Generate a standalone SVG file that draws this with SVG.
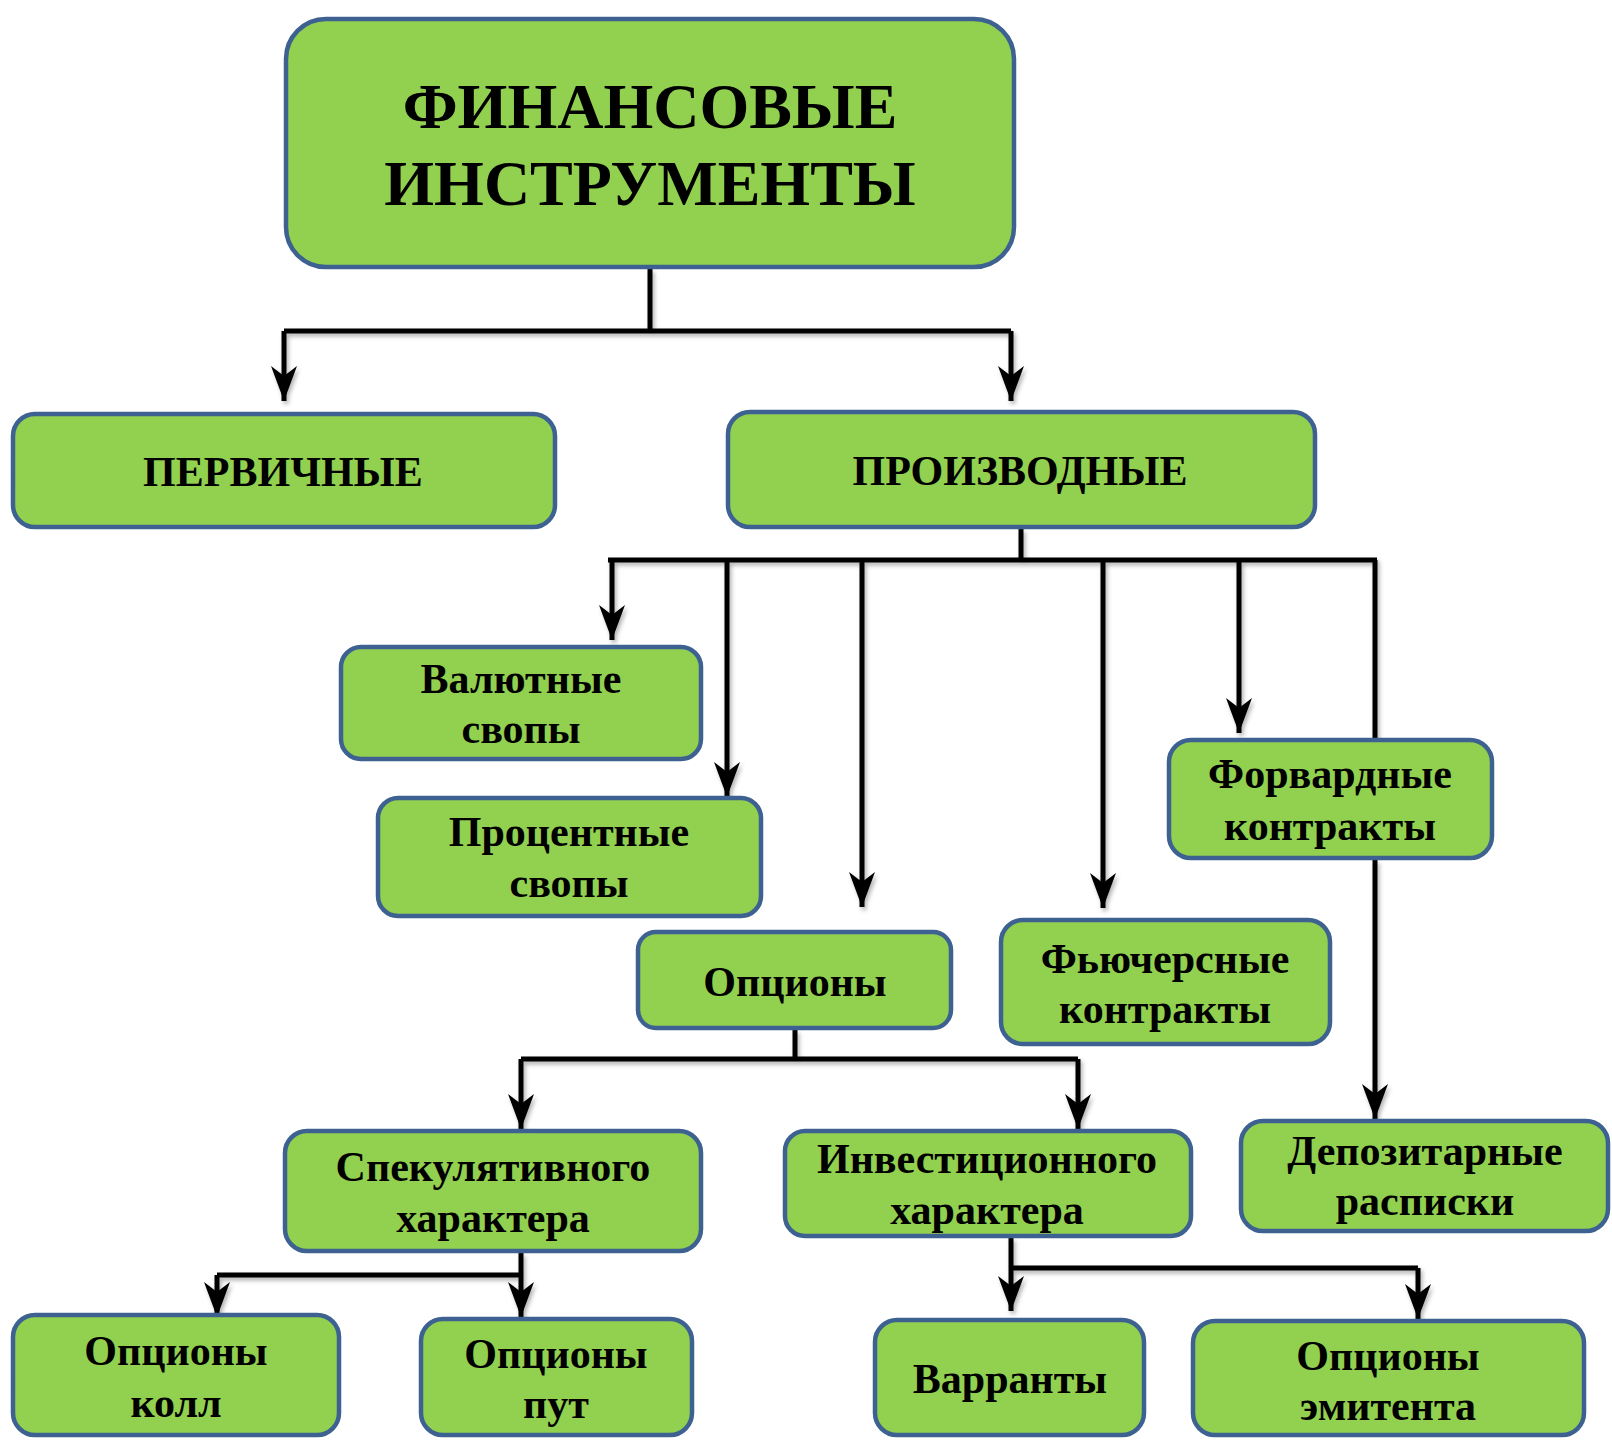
<svg xmlns="http://www.w3.org/2000/svg" width="1612" height="1440" viewBox="0 0 1612 1440">
<style>
.box{fill:#92D050;stroke:#3D6191;stroke-width:4.5}
.t{font-family:"Liberation Serif","Times New Roman",serif;font-weight:bold;font-size:42px;fill:#000;text-anchor:middle}
.big{font-size:64px}
.c{fill:none;stroke:#000;stroke-width:5}
.a{marker-end:url(#arr)}
</style>
<defs>
<marker id="arr" markerUnits="userSpaceOnUse" markerWidth="40" markerHeight="30" viewBox="0 0 40 30" refX="35" refY="13" orient="auto">
<path d="M35,13 L0,0 L10,13 L0,26 Z" fill="#000"/>
</marker>
<filter id="sh" x="-10%" y="-10%" width="120%" height="120%">
<feDropShadow dx="2" dy="3" stdDeviation="2" flood-color="#000" flood-opacity="0.3"/>
</filter>
</defs>
<g id="connectors" filter="url(#sh)">
<path class="c" d="M650,269 V331"/>
<path class="c" d="M284,331 H1011"/>
<path class="c a" d="M284,331 V401"/>
<path class="c a" d="M1011,331 V401"/>
<path class="c" d="M1021,529 V560"/>
<path class="c" d="M608,560 H1377"/>
<path class="c a" d="M612,560 V640"/>
<path class="c a" d="M727,560 V797"/>
<path class="c a" d="M862,560 V907"/>
<path class="c a" d="M1103,560 V908"/>
<path class="c a" d="M1239,560 V733"/>
<path class="c" d="M1375,560 V740"/>
<path class="c a" d="M1375,860 V1119"/>
<path class="c" d="M795,1030 V1059"/>
<path class="c" d="M521,1059 H1078"/>
<path class="c a" d="M521,1059 V1129"/>
<path class="c a" d="M1078,1059 V1129"/>
<path class="c a" d="M521,1253 V1317"/>
<path class="c" d="M217,1275 H521"/>
<path class="c a" d="M217,1275 V1317"/>
<path class="c a" d="M1011,1238 V1311"/>
<path class="c" d="M1011,1268 H1418"/>
<path class="c a" d="M1418,1268 V1319"/>
</g>
<g id="n-root"><rect class="box" x="286" y="19" width="728" height="248" rx="40"/><text class="t big" x="650" y="128">ФИНАНСОВЫЕ</text><text class="t big" x="650" y="205">ИНСТРУМЕНТЫ</text></g>
<g id="n-primary"><rect class="box" x="13" y="414" width="542" height="113" rx="22"/><text class="t" x="283" y="486">ПЕРВИЧНЫЕ</text></g>
<g id="n-derivative"><rect class="box" x="728" y="412" width="587" height="115" rx="22"/><text class="t" x="1020" y="485">ПРОИЗВОДНЫЕ</text></g>
<g id="n-currency-swaps"><rect class="box" x="341" y="647" width="360" height="112" rx="20"/><text class="t" x="521" y="693">Валютные</text><text class="t" x="521" y="743">свопы</text></g>
<g id="n-interest-swaps"><rect class="box" x="378" y="798" width="383" height="118" rx="20"/><text class="t" x="569" y="846">Процентные</text><text class="t" x="569" y="897">свопы</text></g>
<g id="n-options"><rect class="box" x="638" y="932" width="313" height="96" rx="18"/><text class="t" x="795" y="996">Опционы</text></g>
<g id="n-futures"><rect class="box" x="1001" y="920" width="329" height="124" rx="22"/><text class="t" x="1165" y="973">Фьючерсные</text><text class="t" x="1165" y="1023">контракты</text></g>
<g id="n-forwards"><rect class="box" x="1169" y="740" width="323" height="118" rx="22"/><text class="t" x="1330" y="788">Форвардные</text><text class="t" x="1330" y="840">контракты</text></g>
<g id="n-depositary"><rect class="box" x="1241" y="1121" width="367" height="110" rx="22"/><text class="t" x="1425" y="1165">Депозитарные</text><text class="t" x="1425" y="1215">расписки</text></g>
<g id="n-speculative"><rect class="box" x="285" y="1131" width="416" height="120" rx="22"/><text class="t" x="493" y="1181">Спекулятивного</text><text class="t" x="493" y="1232">характера</text></g>
<g id="n-investment"><rect class="box" x="785" y="1131" width="406" height="105" rx="20"/><text class="t" x="987" y="1173">Инвестиционного</text><text class="t" x="987" y="1224">характера</text></g>
<g id="n-call"><rect class="box" x="13" y="1315" width="326" height="120" rx="22"/><text class="t" x="176" y="1365">Опционы</text><text class="t" x="176" y="1417">колл</text></g>
<g id="n-put"><rect class="box" x="421" y="1319" width="271" height="116" rx="22"/><text class="t" x="556" y="1368">Опционы</text><text class="t" x="556" y="1418">пут</text></g>
<g id="n-warrants"><rect class="box" x="875" y="1320" width="269" height="115" rx="22"/><text class="t" x="1010" y="1393">Варранты</text></g>
<g id="n-issuer"><rect class="box" x="1193" y="1321" width="391" height="114" rx="22"/><text class="t" x="1388" y="1370">Опционы</text><text class="t" x="1388" y="1420">эмитента</text></g>
</svg>
